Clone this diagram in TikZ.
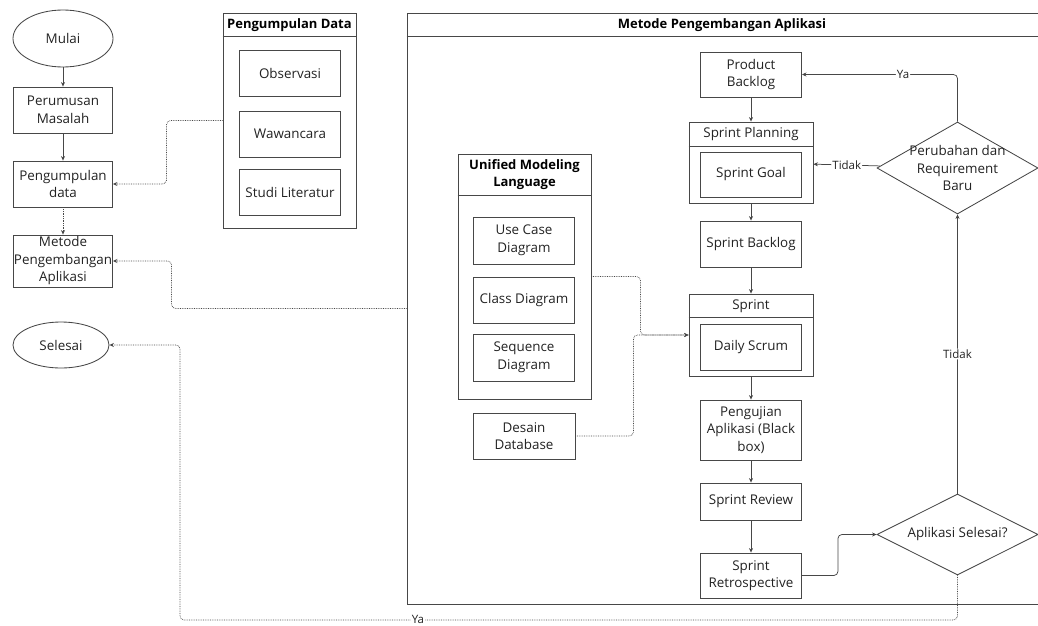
\documentclass[tikz,border=0pt]{standalone}
\usepackage{fontspec}
\setmainfont{Open Sans}
\usetikzlibrary{arrows.meta,shapes.geometric}

\definecolor{linegray}{HTML}{474747}
\definecolor{textgray}{HTML}{222222}

\tikzset{
  box/.style={draw=linegray, line width=0.85pt, minimum width=101pt, minimum height=46pt, align=center, inner sep=0.5pt, text=textgray},
  terminal/.style={draw=linegray, line width=0.85pt, ellipse, minimum width=98pt, minimum height=56pt, inner sep=0.5pt, text=textgray},
  group/.style={draw=linegray, line width=0.85pt, inner sep=0pt},
  title/.style={font=\fontsize{13}{17}\selectfont\bfseries, text=black, align=center},
  decision/.style={draw=linegray, line width=0.85pt, diamond, inner sep=0pt},
  flow/.style={draw=linegray, line width=0.75pt, -{Stealth[length=4.5pt,width=4pt]}, rounded corners=4pt},
  ref/.style={flow, densely dotted},
  choice/.style={fill=white, inner sep=1pt, font=\fontsize{11.5}{13}\selectfont, text=textgray},
}

\begin{document}
\begin{tikzpicture}[x=1pt, y=-1pt, font=\fontsize{13.4}{17.5}\selectfont]
\useasboundingbox (0,0) rectangle (1038,626);

% alur utama
\node[terminal, minimum width=100pt, minimum height=57pt](mulai) at (63,38.5){Mulai};
\node[box, minimum width=99pt](rumus) at (63,110){Perumusan\\Masalah};
\node[box, minimum width=99pt](kumpul) at (63,184){Pengumpulan\\data};
\node[box, minimum width=99pt, minimum height=52pt](metode) at (63,261){Metode\\Pengembangan\\Aplikasi};
\node[terminal, minimum width=96pt, minimum height=46pt](selesai) at (61,345){Selesai};

% pengumpulan data
\node[group, minimum width=133pt, minimum height=215pt](kumpulgrp) at (289.5,120.5){};
\draw[linegray, line width=0.85pt] ([yshift=-24pt]kumpulgrp.north west) -- ([yshift=-24pt]kumpulgrp.north east);
\node[title](kumpultitle) at (289.5,25){Pengumpulan Data};
\node[box](obs) at (290,73){Observasi};
\node[box](waw) at (290,134){Wawancara};
\node[box](studi) at (290,192){Studi Literatur};

% metode pengembangan
\node[group, minimum width=634pt, minimum height=591pt](metodegrp) at (724,308.5){};
\draw[linegray, line width=0.85pt] ([yshift=-24pt]metodegrp.north west) -- ([yshift=-24pt]metodegrp.north east);
\node[title](metodetitle) at (722,25){Metode Pengembangan Aplikasi};

% uml
\node[group, minimum width=133pt, minimum height=245pt](umlgrp) at (524.5,276.5){};
\draw[linegray, line width=0.85pt] ([yshift=-42pt]umlgrp.north west) -- ([yshift=-42pt]umlgrp.north east);
\node[title](umltitle) at (524.5,175){Unified Modeling\\Language};
\node[box, minimum height=47pt](usecase) at (524,240.5){Use Case\\Diagram};
\node[box](class) at (524,300){Class Diagram};
\node[box, minimum height=47pt](seq) at (524,357.5){Sequence\\Diagram};
\node[box, minimum width=102pt](desain) at (524,436){Desain\\Database};

% scrum
\node[box, minimum height=45pt](pb) at (751,74.5){Product\\Backlog};
\node[group, minimum width=124pt, minimum height=81pt](planning) at (751,162.5){};
\draw[linegray, line width=0.85pt] ([yshift=-25pt]planning.north west) -- ([yshift=-25pt]planning.north east);
\node[text=textgray](planningtitle) at (751,134.5){Sprint Planning};
\node[box, minimum height=45pt](goal) at (751,174.5){Sprint Goal};
\node[box](sb) at (751,244){Sprint Backlog};
\node[group, minimum width=124pt, minimum height=82pt](sprint) at (751,335){};
\draw[linegray, line width=0.85pt] ([yshift=-24pt]sprint.north west) -- ([yshift=-24pt]sprint.north east);
\node[text=textgray](sprinttitle) at (751,306){Sprint};
\node[box](daily) at (751,347){Daily Scrum};
\node[box, minimum height=60pt](uji) at (751,430){Pengujian\\Aplikasi (Black\\box)};
\node[box, minimum height=37pt](review) at (751,501.5){Sprint Review};
\node[box, minimum height=45pt](retro) at (751,575.5){Sprint\\Retrospective};

% keputusan
\node[decision, minimum width=161pt, minimum height=92pt,
  label={[align=center, text=textgray]center:Perubahan dan\\Requirement\\Baru}](ubah) at (957.5,168){};
\node[decision, minimum width=161pt, minimum height=81pt,
  label={[text=textgray]center:Aplikasi Selesai?}](cek) at (957.5,534.5){};

% konektor
\path[flow]
(mulai) edge (rumus)
(rumus) edge (kumpul)
(pb) edge (planning)
(planning) edge (sb)
(sb) edge (sprint)
(sprint) edge (uji)
(uji) edge (review)
(review) edge (retro)
(cek) edge node[choice]{Tidak} (ubah)
(ubah) edge node[choice]{Tidak} (planning);
\path[ref] (kumpul) edge (metode);

\draw[flow] (retro.east) -- ++(36,0) |- (cek.west);
\draw[flow] (ubah.north) |- node[choice, pos=0.675]{Ya} (pb.east);

\draw[ref] (kumpulgrp.west) -- ++(-56,0) |- (kumpul.east);
\draw[ref] (metodegrp.west) -- ++(-235,0) |- (metode.east);
\draw[ref] (umlgrp.east) -- ++(49,0) |- (sprint.west);
\draw[ref] (desain.east) -- ++(58,0) |- (sprint.west);
\draw[ref] (cek.south) |- node[choice, pos=0.847]{Ya} ++(-777.5,44.5) |- (selesai.east);

\end{tikzpicture}
\end{document}
